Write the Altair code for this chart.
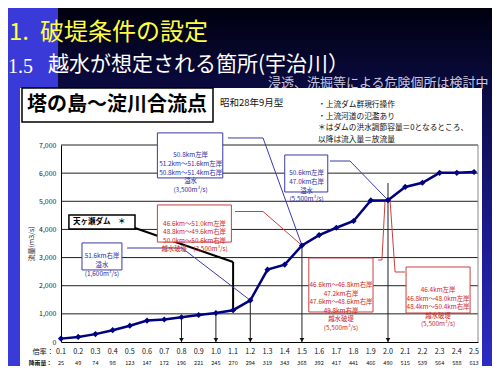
import altair as alt
import pandas as pd

# ---------------- data ----------------
rate = [0.1, 0.2, 0.3, 0.4, 0.5, 0.6, 0.7, 0.8, 0.9, 1.0, 1.1, 1.2, 1.3,
        1.4, 1.5, 1.6, 1.7, 1.8, 1.9, 2.0, 2.1, 2.2, 2.3, 2.4, 2.5]
rain = [25, 49, 74, 98, 123, 147, 172, 196, 221, 245, 270, 294, 319,
        343, 368, 392, 417, 441, 466, 490, 515, 539, 564, 588, 613]
flow = [120, 180, 280, 420, 580, 760, 800, 880, 960, 1030, 1130, 1480, 2570,
        2750, 3430, 3800, 4060, 4300, 5030, 5040, 5510, 5660, 6010, 6010, 6040]
y_ticks = [1000, 2000, 3000, 4000, 5000, 6000, 7000]

arrow_rates = [0.8, 1.0, 1.2, 1.5, 2.0]
arrow_tops = [880, 1030, 1480, 3430, 5650]

ann_texts = [
    "50.8km左岸\n51.2km～51.6km左岸\n50.8km～51.4km右岸\n溢水\n(3,500m³/s)",
    "46.6km～51.0km左岸\n48.8km～49.6km右岸\n50.0km～50.6km右岸\n越水破堤　(3,500m³/s)",
    "51.6km右岸\n溢水\n(1,600m³/s)",
    "50.6km左岸\n47.0km右岸\n溢水\n(5,500m³/s)",
    "46.6km～46.8km右岸\n47.2km右岸\n47.6km～48.6km右岸\n49.8km右岸\n越水破堤\n(5,500m³/s)",
    "46.4km左岸\n46.8km～48.0km左岸\n48.4km～50.4km右岸\n越水破堤\n(5,500m³/s)",
]
ann_kind = ["blue", "red", "blue", "blue", "red", "red"]
ann_x1 = [0.66, 0.66, 0.222, 1.40, 1.54, 2.105]
ann_x2 = [1.04, 1.09, 0.454, 1.65, 1.913, 2.477]
ann_y1 = [5830, 3550, 2560, 5330, 1066, 1030]
ann_y2 = [7430, 4870, 3520, 6645, 2985, 2665]
ann_cx = [0.853, 0.876, 0.338, 1.527, 1.727, 2.291]
ann_cy = [6630, 4210, 3040, 5990, 2025, 1848]

dam_text = "天ヶ瀬ダム　＊"
dam_box = (0.146, 0.53, 4015, 4510)

fl = dict(zip(rate, flow))
# connector segments: (x, y, x2, y2, kind)
segs = [
    (1.07, 7250, 1.274, 7250, "blue"), (1.274, 7250, 1.5, fl[1.5], "blue"),
    (1.111, 4637, 1.274, 4637, "red"), (1.274, 4637, 1.5, fl[1.5], "red"),
    (0.53, 4050, 1.1, 2843, "black"), (1.1, 2843, 1.1, fl[1.1], "black"),
    (0.484, 3340, 0.803, 3340, "blue"), (0.803, 3340, 1.2, fl[1.2], "blue"),
    (1.663, 6431, 1.779, 6431, "blue"), (1.779, 6431, 2.0, fl[2.0], "blue"),
    (1.942, 2914, 1.965, 2914, "red"), (1.965, 2914, 1.983, fl[2.0], "red"),
    (2.099, 2487, 2.041, 2487, "red"), (2.041, 2487, 2.012, fl[2.0], "red"),
]

FONT = "Noto Sans CJK JP"
NAVY = "#000080"
BLUE_T = "#2c2ca0"
RED_T = "#cc2424"
kind_col = {"blue": "#3a3aa8", "red": "#c84040", "black": "#000000"}
kind_w = {"blue": 1, "red": 1, "black": 2}

W, H = 417, 197

df = pd.DataFrame({"rate": rate, "rain": rain, "flow": flow,
                   "rlab": [f"{r:.1f}" for r in rate]})
one = pd.DataFrame({"a": [0]})

xscale = alt.Scale(domain=[0.1, 2.523], nice=False, zero=False)
yscale = alt.Scale(domain=[0, 7000], nice=False)
xaxis = alt.Axis(labels=False, ticks=False, grid=False, domainColor="black",
                 domainWidth=1, title=None, zindex=1)
yaxis = alt.Axis(values=[0] + y_ticks, format=",.0f", labelFontSize=7, labelColor="#222",
                 labelFont=FONT, ticks=False, grid=False, domainColor="black",
                 title="流量(m3/s)", titleFont=FONT, titleFontSize=7,
                 titleFontWeight="normal", titleColor="#222", titlePadding=4,
                 labelPadding=5, zindex=1)


def X(f):
    return alt.X(f, type="quantitative", scale=xscale, axis=xaxis)


def Y(f):
    return alt.Y(f, type="quantitative", scale=yscale, axis=yaxis)


def vrect(x1, x2, y1, y2, **kw):
    return alt.Chart(one).mark_rect(**kw).encode(
        x=alt.value(x1), x2=alt.value(x2), y=alt.value(y1), y2=alt.value(y2))


def vtext(s, x, y, size, color, weight="normal", font=FONT, align="left"):
    return alt.Chart(one).mark_text(
        text=s, align=align, baseline="middle", fontSize=size, color=color,
        fontWeight=weight, font=font).encode(x=alt.value(x), y=alt.value(y))


# ---------------- slide decoration ----------------
bg = vrect(-53, 431, -137, 230, fill=alt.LinearGradient(
    gradient="linear", x1=0, x2=0, y1=0, y2=1,
    stops=[alt.GradientStop(color="#00000f", offset=0),
           alt.GradientStop(color="#0c0c48", offset=0.25),
           alt.GradientStop(color="#1a1a8a", offset=0.6),
           alt.GradientStop(color="#2e2ec8", offset=1)]))
strip = vrect(-53, -3, -137, 230, fill="#3a3ad8")
sub_note = vtext("浸透、洗掘等による危険個所は検討中", 207, -62, 13, "#c8c8dc")
panel = vrect(-41, 421, -57, 230, fill="white")
tbox = vrect(-39, 152, -57, -23, fill="white", stroke="black", strokeWidth=1.5)
ttl = vtext("塔の島～淀川合流点", -34, -40, 20, "black", weight="bold")
showa = vtext("昭和28年9月型", 159, -42, 9.5, "#111")
notes = [vtext(s, 257, yy, 7.7, "#111") for s, yy in zip(
    ["・上流ダム群現行操作", "・上流河道の氾濫あり",
     "＊はダムの洪水調節容量＝0となるところ、", "以降は流入量＝放流量"],
    [-40, -28.5, -17, -5.5])]
h1a = vtext("1.", -52, -112, 24, "#ffff40")
h1b = vtext("破堤条件の設定", -21, -112, 24, "#ffff40")
h2a = vtext("1.5", -53, -78, 20, "white", font="Liberation Serif")
h2b = vtext("越水が想定される箇所(宇治川）", -13, -80, 21, "white")

# ---------------- plot ----------------
grid = alt.Chart(pd.DataFrame({"v": y_ticks})).mark_rule(
    color="#222", strokeWidth=1).encode(y=Y("v"))
rborder = alt.Chart(pd.DataFrame({"x": [2.523], "y": [0], "y2": [7000]})).mark_rule(
    color="#888", strokeWidth=1).encode(x=X("x"), y=Y("y"), y2="y2")

adf = pd.DataFrame({"rate": arrow_rates, "top": arrow_tops, "zero": 0})
arrows = alt.Chart(adf).mark_rule(color="#222", strokeWidth=1).encode(
    x=X("rate"), y=Y("top"), y2="zero")
heads = alt.Chart(adf).mark_point(shape="triangle-down", filled=True, size=22,
                                  color="#111", opacity=1, yOffset=-2).encode(
    x=X("rate"), y=Y("zero"))

sdf = pd.DataFrame(segs, columns=["x", "y", "x2", "y2", "kind"])
sdf["col"] = sdf["kind"].map(kind_col)
sdf["w"] = sdf["kind"].map(kind_w)
conns = alt.Chart(sdf).mark_rule().encode(
    x=X("x"), y=Y("y"), x2="x2", y2="y2",
    color=alt.Color("col:N", scale=None),
    strokeWidth=alt.StrokeWidth("w:Q", scale=None))

bdf = pd.DataFrame({"x1": ann_x1, "x2": ann_x2, "y1": ann_y1, "y2": ann_y2,
                    "cx": ann_cx, "cy": ann_cy, "t": ann_texts,
                    "sc": [kind_col[k] for k in ann_kind],
                    "tc": [BLUE_T if k == "blue" else RED_T for k in ann_kind]})
boxes = alt.Chart(bdf).mark_rect(fill="white", strokeWidth=1).encode(
    x=X("x1"), x2="x2", y=Y("y1"), y2="y2",
    stroke=alt.Stroke("sc:N", scale=None))
btext = alt.Chart(bdf).mark_text(lineBreak="\n", lineHeight=8.6, fontSize=6.4,
                                 font=FONT, baseline="middle", align="center").encode(
    x=X("cx"), y=Y("cy"), text="t:N", color=alt.Color("tc:N", scale=None))

ddf = pd.DataFrame({"x1": [dam_box[0]], "x2": [dam_box[1]], "y1": [dam_box[2]],
                    "y2": [dam_box[3]], "tx": [0.17], "ty": [4264], "t": [dam_text]})
dbox = alt.Chart(ddf).mark_rect(fill="white", stroke="black", strokeWidth=1.5).encode(
    x=X("x1"), x2="x2", y=Y("y1"), y2="y2")
dtext = alt.Chart(ddf).mark_text(fontSize=7.5, fontWeight="bold", font=FONT,
                                 align="left", baseline="middle", color="black").encode(
    x=X("tx"), y=Y("ty"), text="t:N")

line = alt.Chart(df).mark_line(color=NAVY, strokeWidth=2.5).encode(
    x=X("rate"), y=Y("flow"))
pts = alt.Chart(df).mark_point(shape="diamond", filled=True, size=38, color=NAVY,
                               opacity=1).encode(x=X("rate"), y=Y("flow"))

rlab = alt.Chart(df).mark_text(fontSize=7.2, font=FONT, color="#111",
                               baseline="middle").encode(
    x=X("rate"), y=alt.value(H + 10), text="rlab:N")
rnlab = alt.Chart(df).mark_text(fontSize=5.6, font=FONT, color="#111",
                                baseline="middle").encode(
    x=X("rate"), y=alt.value(H + 20.5), text="rain:Q")
lab1 = vtext("倍率：", -7, H + 10, 7.2, "#111", align="right")
lab2 = vtext("降雨量：", -9, H + 20.5, 5.8, "#111", weight="bold", align="right")

chart = alt.layer(
    bg, strip, sub_note, panel, tbox, ttl, showa, *notes, h1a, h1b, h2a, h2b,
    grid, rborder, arrows, conns, boxes, btext, dbox, dtext, line, pts, heads,
    rlab, rnlab, lab1, lab2,
).properties(
    width=W, height=H,
    padding={"left": 53, "top": 137, "right": 14, "bottom": 24},
    autosize=alt.AutoSizeParams(type="none"),
).configure_view(stroke=None)

chart.save("out.html", embed_options={"renderer": "svg", "actions": False})
